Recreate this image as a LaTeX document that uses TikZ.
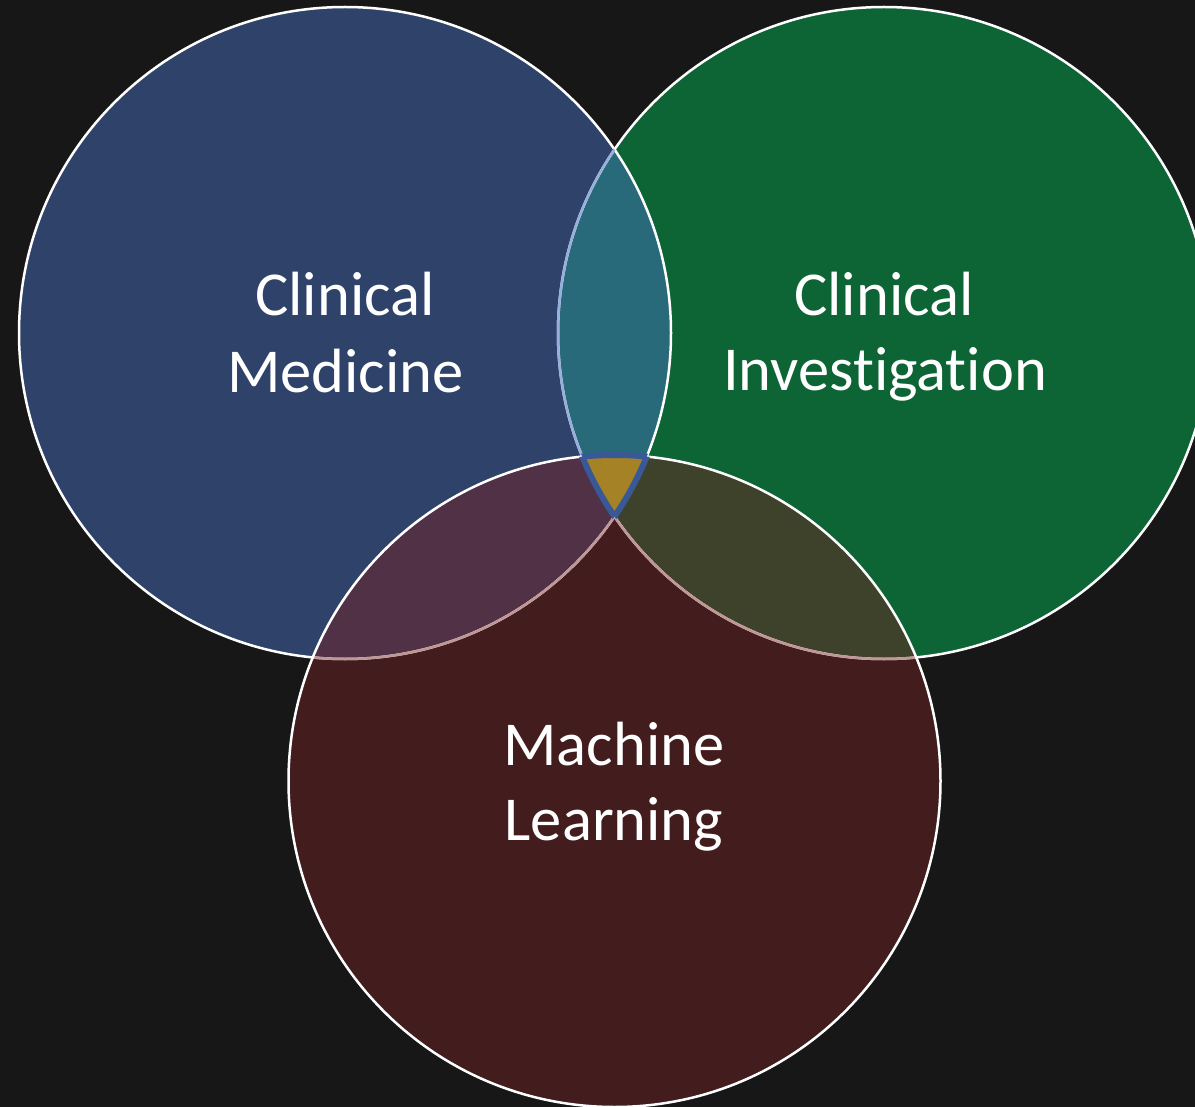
\documentclass[tikz,border=0pt]{standalone}
\usepackage{fontspec}
\setmainfont{Carlito}[Ligatures=CommonOff]
\definecolor{bgc}{RGB}{23,23,23}
\definecolor{cblue}{RGB}{47,67,106}
\definecolor{cgreen}{RGB}{13,100,52}
\definecolor{cred}{RGB}{67,28,29}
\definecolor{cteal}{RGB}{40,106,122}
\definecolor{cbr}{RGB}{80,49,70}
\definecolor{cgr}{RGB}{62,66,42}
\definecolor{cgold}{RGB}{166,130,38}
\definecolor{lblue}{RGB}{150,175,220}
\definecolor{lpink}{RGB}{192,150,150}
\definecolor{tblue}{RGB}{56,88,150}
\begin{document}
\begin{tikzpicture}[x=1pt,y=-1pt,
  lbl/.style={text=white, font=\fontsize{62.5}{76}\selectfont, inner sep=0pt, anchor=base},
  rim/.style={line width=2.5pt},
  tri/.style={line width=6pt, draw=tblue}]
\def\R{326pt}
\useasboundingbox (0,0) rectangle (1195,1107);
\fill[bgc] (0,0) rectangle (1195,1107);
\coordinate (B) at (345,333);
\coordinate (G) at (884,333);
\coordinate (Rd) at (614.5,781);
% base fills
\fill[cblue] (B) circle[radius=\R];
\fill[cgreen] (G) circle[radius=\R];
\fill[cred] (Rd) circle[radius=\R];
% pairwise overlaps
\begin{scope}
  \clip (B) circle[radius=\R];
  \fill[cteal] (G) circle[radius=\R];
\end{scope}
\begin{scope}
  \clip (B) circle[radius=\R];
  \fill[cbr] (Rd) circle[radius=\R];
\end{scope}
\begin{scope}
  \clip (G) circle[radius=\R];
  \fill[cgr] (Rd) circle[radius=\R];
\end{scope}
% centre
\begin{scope}
  \clip (B) circle[radius=\R];
  \clip (G) circle[radius=\R];
  \fill[cgold] (Rd) circle[radius=\R];
\end{scope}
% outlines
\draw[rim, white] (B) circle[radius=\R];
\draw[rim, white] (G) circle[radius=\R];
\begin{scope}
  \clip (B) circle[radius=\R];
  \draw[rim, lblue] (G) circle[radius=\R];
\end{scope}
\begin{scope}
  \clip (Rd) circle[radius=\R];
  \draw[rim, lpink] (B) circle[radius=\R];
  \draw[rim, lpink] (G) circle[radius=\R];
\end{scope}
\draw[rim, white] (Rd) circle[radius=\R];
% centre outline
\begin{scope}
  \clip (B) circle[radius=\R];
  \clip (G) circle[radius=\R];
  \draw[tri] (Rd) circle[radius=\R];
\end{scope}
\begin{scope}
  \clip (B) circle[radius=\R];
  \clip (Rd) circle[radius=\R];
  \draw[tri] (G) circle[radius=\R];
\end{scope}
\begin{scope}
  \clip (G) circle[radius=\R];
  \clip (Rd) circle[radius=\R];
  \draw[tri] (B) circle[radius=\R];
\end{scope}
% labels
\node[lbl] (cm1) at (345,316) {Clinical};
\node[lbl] (cm2) at (345.5,392) {Medicine};
\node[lbl] (ci1) at (884,316) {Clinical};
\node[lbl] (ci2) at (885,391) {Investigation};
\node[lbl] (ml1) at (614,765) {Machine};
\node[lbl] (ml2) at (614,840) {Learning};
\end{tikzpicture}
\end{document}
